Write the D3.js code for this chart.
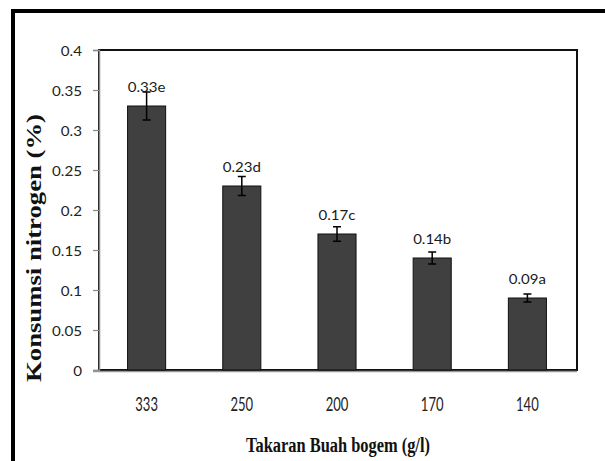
<!DOCTYPE html>
<html>
<head>
<meta charset="utf-8">
<script src="https://cdn.jsdelivr.net/npm/d3@7"></script>
<style>
  html, body { margin: 0; padding: 0; background: #fff; }
  svg { display: block; }
</style>
</head>
<body>
<svg id="chart" width="605" height="461"></svg>
<script>
// Nitrogen consumption by bogem fruit dosage
const categories = ["333", "250", "200", "170", "140"];
const values = [0.33, 0.23, 0.17, 0.14, 0.09];
const errors = [0.0175, 0.012, 0.009, 0.0075, 0.005];
const letters = ["e", "d", "c", "b", "a"];
const yTicks = [0, 0.05, 0.1, 0.15, 0.2, 0.25, 0.3, 0.35, 0.4];
const yTickLabels = ["0", "0.05", "0.1", "0.15", "0.2", "0.25", "0.3", "0.35", "0.4"];

const svg = d3.select("#chart");
const plot = { left: 99, right: 577, top: 50, bottom: 370 };
const sans = "Lato, 'Open Sans', sans-serif";
const serif = "'Liberation Serif', 'Times New Roman', serif";

// horizontal scale factor so that `sample` set in the given font spans `width` px
function fitScale(sample, size, family, weight, width) {
  const t = svg.append("text")
    .style("font-family", family)
    .style("font-size", size + "px")
    .style("font-weight", weight)
    .text(sample);
  const w = t.node().getComputedTextLength();
  t.remove();
  return w > 0 ? width / w : 1;
}

const x = d3.scaleBand()
  .domain(categories)
  .range([plot.left, plot.right - 2])
  .paddingInner(0.6)
  .paddingOuter(0.3);

const y = d3.scaleLinear()
  .domain([0, 0.4])
  .range([plot.bottom, plot.top]);

// outer frame (left and top edges)
svg.append("path")
  .attr("d", "M13,461 L13,11 L605,11")
  .attr("fill", "none")
  .attr("stroke", "#000")
  .attr("stroke-width", 4);

// plot area box
svg.append("rect")
  .attr("x", plot.left)
  .attr("y", plot.top)
  .attr("width", plot.right - plot.left)
  .attr("height", plot.bottom - plot.top)
  .attr("fill", "none")
  .attr("stroke", "#111")
  .attr("stroke-width", 2);

// y axis
const yTickSize = 13.4;
const yTickSx = fitScale("0.35", yTickSize, sans, "normal", 30);
const yAxis = d3.axisLeft(y)
  .tickValues(yTicks)
  .tickFormat((d, i) => yTickLabels[i])
  .tickSize(6);

const gy = svg.append("g")
  .attr("transform", `translate(${plot.left},0)`)
  .call(yAxis);
gy.select(".domain").attr("stroke", "#888").attr("stroke-width", 1.5);
gy.selectAll(".tick line").attr("stroke", "#888").attr("stroke-width", 1.2);
gy.selectAll(".tick text")
  .attr("x", null)
  .attr("dy", null)
  .attr("transform", `translate(-17,5.5) scale(${yTickSx},1)`)
  .attr("fill", "#222")
  .style("font-family", sans)
  .style("font-size", yTickSize + "px");

// x axis baseline
svg.append("line")
  .attr("x1", plot.left - 6)
  .attr("x2", plot.right)
  .attr("y1", plot.bottom + 1.5)
  .attr("y2", plot.bottom + 1.5)
  .attr("stroke", "#999")
  .attr("stroke-width", 1.5);

// x tick labels (tall, narrow setting)
const xTickSize = 18.5;
const xTickSx = fitScale("333", xTickSize, sans, "normal", 22.7);
svg.append("g").selectAll("text")
  .data(categories)
  .join("text")
  .attr("transform", d => `translate(${x(d) + x.bandwidth() / 2},410.7) scale(${xTickSx},1)`)
  .attr("text-anchor", "middle")
  .attr("fill", "#222")
  .style("font-family", sans)
  .style("font-size", xTickSize + "px")
  .text(d => d);

// bars
svg.append("g").selectAll("rect")
  .data(values)
  .join("rect")
  .attr("x", (d, i) => x(categories[i]))
  .attr("y", d => y(d))
  .attr("width", x.bandwidth())
  .attr("height", d => y(0) - y(d))
  .attr("fill", "#404040")
  .attr("stroke", "#111")
  .attr("stroke-width", 1);

// error bars
const eb = svg.append("g")
  .attr("stroke", "#000")
  .attr("stroke-width", 1.5)
  .attr("fill", "none");
values.forEach((v, i) => {
  const cx = x(categories[i]) + x.bandwidth() / 2;
  const hi = y(v + errors[i]);
  const lo = y(v - errors[i]);
  eb.append("path")
    .attr("d", `M${cx},${hi}L${cx},${lo}M${cx - 4},${hi}L${cx + 4},${hi}M${cx - 4},${lo}L${cx + 4},${lo}`);
});

// value labels with significance letters
const labelSize = 14;
const labelSx = fitScale("0.33e", labelSize, sans, "normal", 37.7);
svg.append("g").selectAll("text")
  .data(values)
  .join("text")
  .attr("transform", (d, i) =>
    `translate(${x(categories[i]) + x.bandwidth() / 2},${y(d) - 14.3}) scale(${labelSx},1)`)
  .attr("text-anchor", "middle")
  .attr("fill", "#1a1a1a")
  .style("font-family", sans)
  .style("font-size", labelSize + "px")
  .text((d, i) => d3.format(".2f")(d) + letters[i]);

// axis titles
const yTitle = "Konsumsi nitrogen (%)";
const yTitleSize = 20.5;
const yTitleSx = fitScale(yTitle, yTitleSize, serif, "bold", 268);
svg.append("text")
  .attr("transform", `translate(41,248) rotate(-90) scale(${yTitleSx},1)`)
  .attr("text-anchor", "middle")
  .attr("fill", "#111")
  .style("font-family", serif)
  .style("font-weight", "bold")
  .style("font-size", yTitleSize + "px")
  .text(yTitle);

const xTitle = "Takaran Buah bogem (g/l)";
const xTitleSize = 21;
const xTitleSx = fitScale(xTitle, xTitleSize, serif, "bold", 184);
svg.append("text")
  .attr("transform", `translate(338,451.7) scale(${xTitleSx},1)`)
  .attr("text-anchor", "middle")
  .attr("fill", "#111")
  .style("font-family", serif)
  .style("font-weight", "bold")
  .style("font-size", xTitleSize + "px")
  .text(xTitle);
</script>
</body>
</html>
